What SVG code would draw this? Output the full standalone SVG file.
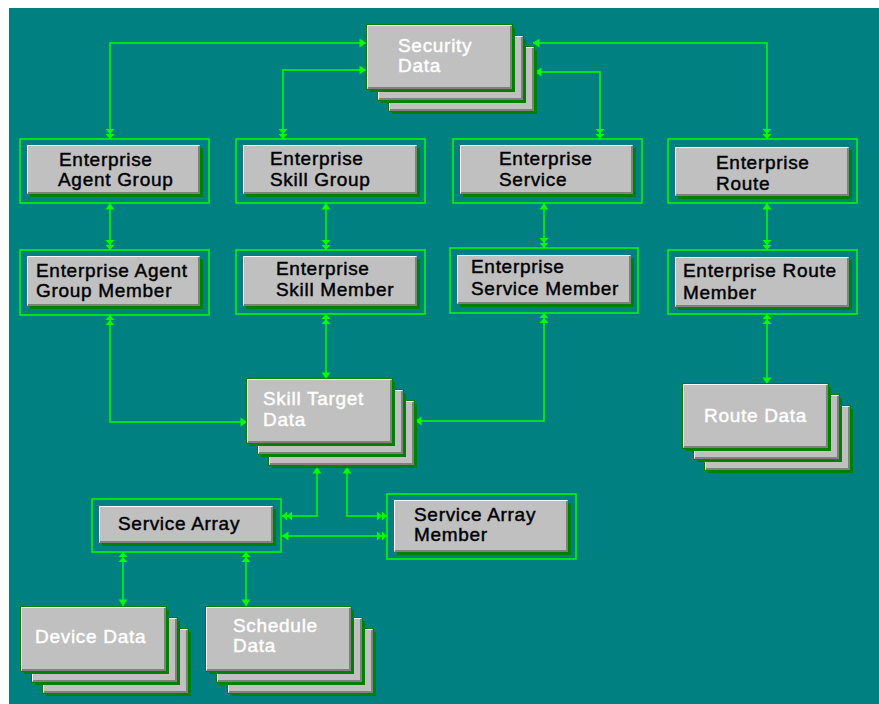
<svg xmlns="http://www.w3.org/2000/svg" xmlns:xlink="http://www.w3.org/1999/xlink" width="879" height="704" viewBox="0 0 879 704">
<style>
.frame{fill:none;stroke:#00ff00;stroke-width:1.5}
.box{fill:#c0c0c0}
.sh{fill:#008000}
.hi{fill:none;stroke:#ffffff;stroke-width:1}
.lo{fill:none;stroke:#808080;stroke-width:2}
.lbl{font-family:"Liberation Sans",Arial,sans-serif;font-size:19px;font-weight:normal;fill:#000000;stroke:#000000;stroke-width:0.45px;letter-spacing:0.7px}
.wl{fill:#ffffff;stroke:#ffffff}
.conn{fill:none;stroke:#00ff00;stroke-width:1.5}
</style>
<defs>
<marker id="one" viewBox="-7 -5 8 10" refX="0" refY="0" markerWidth="8" markerHeight="10" markerUnits="userSpaceOnUse" orient="auto-start-reverse">
<path d="M0,0 L-6.5,-4.5 L-6.5,4.5 Z" fill="#00ff00"/>
</marker>
<marker id="many" viewBox="-12 -5 13 10" refX="0" refY="0" markerWidth="13" markerHeight="10" markerUnits="userSpaceOnUse" orient="auto-start-reverse">
<path d="M0,0 L-5,-4.5 L-5,4.5 Z M-5,0 L-10,-4.5 L-10,4.5 Z" fill="#00ff00"/>
</marker>
<g id="card">
<rect x="3" y="3" width="145" height="64" fill="#008000"/>
<rect x="-1" y="-1" width="147" height="66" fill="#008000"/>
<rect x="0" y="0" width="145" height="64" fill="#c0c0c0"/>
<path d="M0.5,63 V0.5 H144" fill="none" stroke="#ffffff"/>
<path d="M1,63 H144 V1" fill="none" stroke="#808080" stroke-width="2"/>
</g>
<g id="stack">
<use xlink:href="#card" x="22" y="22"/>
<use xlink:href="#card" x="11" y="11"/>
<use xlink:href="#card" x="0" y="0"/>
</g>
</defs>

<rect x="0" y="0" width="879" height="704" fill="#ffffff"/>
<rect x="9" y="8" width="870" height="696" fill="#008080"/>

<g id="connectors">
<path class="conn" d="M366,43 H110 V139" marker-start="url(#one)" marker-end="url(#many)"/>
<path class="conn" d="M366,70 H283 V139" marker-start="url(#one)" marker-end="url(#many)"/>
<path class="conn" d="M535,72 H600 V139" marker-start="url(#one)" marker-end="url(#many)"/>
<path class="conn" d="M533,43 H767 V139" marker-start="url(#one)" marker-end="url(#many)"/>
<path class="conn" d="M110,203 V250" marker-start="url(#one)" marker-end="url(#many)"/>
<path class="conn" d="M326,203 V250" marker-start="url(#one)" marker-end="url(#many)"/>
<path class="conn" d="M544,203 V248" marker-start="url(#one)" marker-end="url(#many)"/>
<path class="conn" d="M767,203 V250" marker-start="url(#one)" marker-end="url(#many)"/>
<path class="conn" d="M247,422 H110 V315" marker-start="url(#one)" marker-end="url(#many)"/>
<path class="conn" d="M326,379 V314" marker-start="url(#one)" marker-end="url(#many)"/>
<path class="conn" d="M415,421 H544 V313" marker-start="url(#one)" marker-end="url(#many)"/>
<path class="conn" d="M767,384 V314" marker-start="url(#one)" marker-end="url(#many)"/>
<path class="conn" d="M317,467 V516 H282" marker-start="url(#one)" marker-end="url(#many)"/>
<path class="conn" d="M347,467 V516 H387" marker-start="url(#one)" marker-end="url(#many)"/>
<path class="conn" d="M282,536 H387" marker-start="url(#one)" marker-end="url(#many)"/>
<path class="conn" d="M123,606 V552" marker-start="url(#one)" marker-end="url(#many)"/>
<path class="conn" d="M246,606 V552" marker-start="url(#one)" marker-end="url(#many)"/>
</g>

<g id="security-data">
<use xlink:href="#stack" x="367" y="25"/>
<text class="lbl wl" x="398" y="52">Security</text>
<text class="lbl wl" x="398" y="72">Data</text>
</g>

<g id="enterprise-agent-group">
<rect class="frame" x="20" y="139" width="189" height="64"/>
<rect class="sh" x="30" y="148" width="173" height="49"/>
<rect class="box" x="27" y="145" width="173" height="49"/>
<path class="hi" d="M27.5,193 V145.5 H199"/>
<path class="lo" d="M28,193 H199 V146"/>
<text class="lbl" x="59" y="166">Enterprise</text>
<text class="lbl" x="58" y="186">Agent Group</text>
</g>

<g id="enterprise-skill-group">
<rect class="frame" x="236" y="139" width="189" height="64"/>
<rect class="sh" x="246" y="148" width="174" height="49"/>
<rect class="box" x="243" y="145" width="174" height="49"/>
<path class="hi" d="M243.5,193 V145.5 H416"/>
<path class="lo" d="M244,193 H416 V146"/>
<text class="lbl" x="270" y="165">Enterprise</text>
<text class="lbl" x="270" y="186">Skill Group</text>
</g>

<g id="enterprise-service">
<rect class="frame" x="453" y="139" width="189" height="64"/>
<rect class="sh" x="463" y="148" width="173" height="49"/>
<rect class="box" x="460" y="145" width="173" height="49"/>
<path class="hi" d="M460.5,193 V145.5 H632"/>
<path class="lo" d="M461,193 H632 V146"/>
<text class="lbl" x="499" y="165">Enterprise</text>
<text class="lbl" x="499" y="186">Service</text>
</g>

<g id="enterprise-route">
<rect class="frame" x="668" y="139" width="189" height="64"/>
<rect class="sh" x="678" y="150" width="174" height="49"/>
<rect class="box" x="675" y="147" width="174" height="49"/>
<path class="hi" d="M675.5,195 V147.5 H848"/>
<path class="lo" d="M676,195 H848 V148"/>
<text class="lbl" x="716" y="169">Enterprise</text>
<text class="lbl" x="716" y="190">Route</text>
</g>

<g id="enterprise-agent-group-member">
<rect class="frame" x="20" y="250" width="189" height="65"/>
<rect class="sh" x="30" y="259" width="173" height="50"/>
<rect class="box" x="27" y="256" width="173" height="50"/>
<path class="hi" d="M27.5,305 V256.5 H199"/>
<path class="lo" d="M28,305 H199 V257"/>
<text class="lbl" x="36" y="277">Enterprise Agent</text>
<text class="lbl" x="36" y="297">Group Member</text>
</g>

<g id="enterprise-skill-member">
<rect class="frame" x="236" y="250" width="189" height="64"/>
<rect class="sh" x="246" y="259" width="174" height="50"/>
<rect class="box" x="243" y="256" width="174" height="50"/>
<path class="hi" d="M243.5,305 V256.5 H416"/>
<path class="lo" d="M244,305 H416 V257"/>
<text class="lbl" x="276" y="275">Enterprise</text>
<text class="lbl" x="276" y="296">Skill Member</text>
</g>

<g id="enterprise-service-member">
<rect class="frame" x="450" y="248" width="188" height="65"/>
<rect class="sh" x="460" y="258" width="174" height="49"/>
<rect class="box" x="457" y="255" width="174" height="49"/>
<path class="hi" d="M457.5,303 V255.5 H630"/>
<path class="lo" d="M458,303 H630 V256"/>
<text class="lbl" x="471" y="273">Enterprise</text>
<text class="lbl" x="471" y="295">Service Member</text>
</g>

<g id="enterprise-route-member">
<rect class="frame" x="668" y="250" width="189" height="64"/>
<rect class="sh" x="678" y="260" width="174" height="50"/>
<rect class="box" x="675" y="257" width="174" height="50"/>
<path class="hi" d="M675.5,306 V257.5 H848"/>
<path class="lo" d="M676,306 H848 V258"/>
<text class="lbl" x="683" y="277">Enterprise Route</text>
<text class="lbl" x="683" y="299">Member</text>
</g>

<g id="skill-target-data">
<use xlink:href="#stack" x="247" y="379"/>
<text class="lbl wl" x="263" y="405">Skill Target</text>
<text class="lbl wl" x="263" y="426">Data</text>
</g>

<g id="route-data">
<use xlink:href="#stack" x="683" y="384"/>
<text class="lbl wl" x="704" y="422">Route Data</text>
</g>

<g id="service-array">
<rect class="frame" x="92" y="499" width="189" height="53"/>
<rect class="sh" x="102" y="509" width="174" height="37"/>
<rect class="box" x="99" y="506" width="174" height="37"/>
<path class="hi" d="M99.5,542 V506.5 H272"/>
<path class="lo" d="M100,542 H272 V507"/>
<text class="lbl" x="118" y="530">Service Array</text>
</g>

<g id="service-array-member">
<rect class="frame" x="387" y="494" width="189" height="65"/>
<rect class="sh" x="397" y="503" width="174" height="52"/>
<rect class="box" x="394" y="500" width="174" height="52"/>
<path class="hi" d="M394.5,551 V500.5 H567"/>
<path class="lo" d="M395,551 H567 V501"/>
<text class="lbl" x="414" y="521">Service Array</text>
<text class="lbl" x="414" y="541">Member</text>
</g>

<g id="device-data">
<use xlink:href="#stack" x="21" y="607"/>
<text class="lbl wl" x="35" y="643">Device Data</text>
</g>

<g id="schedule-data">
<use xlink:href="#stack" x="206" y="607"/>
<text class="lbl wl" x="233" y="632">Schedule</text>
<text class="lbl wl" x="233" y="652">Data</text>
</g>
</svg>
